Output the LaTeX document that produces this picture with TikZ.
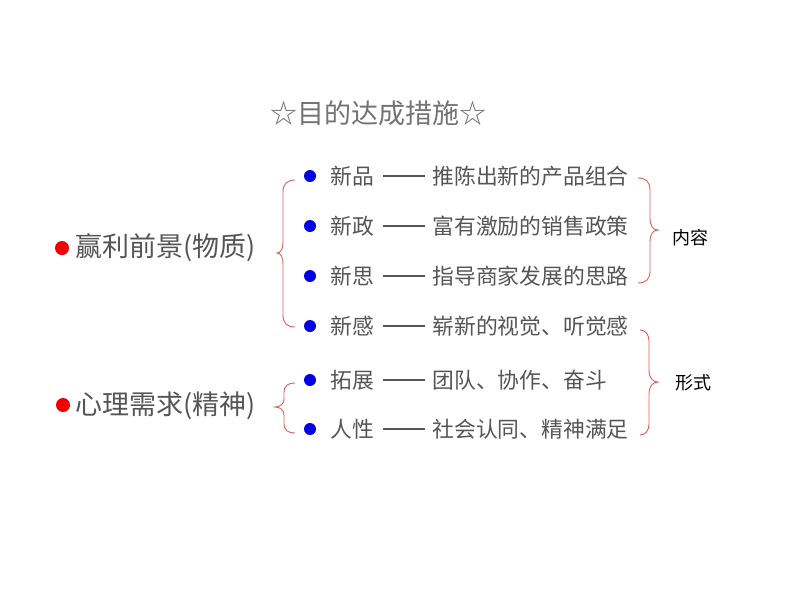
\documentclass[tikz,border=0pt]{standalone}
\usepackage{fontspec}
\newfontfamily\cjk{Noto Sans CJK SC}
\usetikzlibrary{positioning}
\definecolor{txtgray}{RGB}{85,85,85}
\definecolor{titlegray}{RGB}{115,115,115}
\definecolor{dotblue}{RGB}{0,0,230}
\definecolor{dotred}{RGB}{240,0,0}
\definecolor{bracered}{RGB}{224,96,96}
\tikzstyle{heading} = [text=titlegray, font=\cjk\fontsize{27}{30}\selectfont, inner sep=0pt]
\tikzstyle{topic} = [anchor=west, text=txtgray, font=\cjk\fontsize{27}{30}\selectfont, inner sep=0pt]
\tikzstyle{item} = [anchor=west, text=txtgray, font=\cjk\fontsize{21.8}{24}\selectfont, inner sep=0pt]
\tikzstyle{note} = [anchor=west, text=black, font=\cjk\fontsize{18}{20}\selectfont, inner sep=0pt]
\tikzstyle{bluedot} = [circle, fill=dotblue, inner sep=0pt, minimum size=12pt]
\tikzstyle{reddot} = [circle, fill=dotred, inner sep=0pt, minimum size=14pt]
\tikzstyle{rule} = [draw=txtgray, line width=1.3pt]
\tikzstyle{curly} = [draw=bracered, line width=0.9pt]

\begin{document}
\begin{tikzpicture}[x=1pt, y=-1pt]
	\useasboundingbox (0,0) rectangle (800,600);

	% title node
	\node [heading] (T) at (378,113) {☆目的达成措施☆};

	% left topics
	\node [reddot] (R1) at (62,248) {};
	\node [topic] (P1) at (75,248) {赢利前景(物质)};
	\node [reddot] (R2) at (63,405) {};
	\node [topic] (P2) at (75,406) {心理需求(精神)};

	% place rows
	\node [bluedot] (D1) at (310,176) {};
	\node [item, right=14pt of D1] (K1) {新品};
	\node [item, right=58pt of K1] (V1) {推陈出新的产品组合};

	\node [bluedot] (D2) at (310,226) {};
	\node [item, right=14pt of D2] (K2) {新政};
	\node [item, right=58pt of K2] (V2) {富有激励的销售政策};

	\node [bluedot] (D3) at (310,276) {};
	\node [item, right=14pt of D3] (K3) {新思};
	\node [item, right=58pt of K3] (V3) {指导商家发展的思路};

	\node [bluedot] (D4) at (310,326) {};
	\node [item, right=14pt of D4] (K4) {新感};
	\node [item, right=58pt of K4] (V4) {崭新的视觉、听觉感};

	\node [bluedot] (D5) at (310,380) {};
	\node [item, right=14pt of D5] (K5) {拓展};
	\node [item, right=58pt of K5] (V5) {团队、协作、奋斗};

	\node [bluedot] (D6) at (310,429) {};
	\node [item, right=14pt of D6] (K6) {人性};
	\node [item, right=58pt of K6] (V6) {社会认同、精神满足};

	% right notes
	\node [note] (N1) at (672,238) {内容};
	\node [note] (N2) at (675,383) {形式};

	% draw dashes
	\path [rule] ([xshift=9pt]K1.east) -- ([xshift=-7pt]V1.west);
	\path [rule] ([xshift=9pt]K2.east) -- ([xshift=-7pt]V2.west);
	\path [rule] ([xshift=9pt]K3.east) -- ([xshift=-7pt]V3.west);
	\path [rule] ([xshift=9pt]K4.east) -- ([xshift=-7pt]V4.west);
	\path [rule] ([xshift=9pt]K5.east) -- ([xshift=-7pt]V5.west);
	\path [rule] ([xshift=9pt]K6.east) -- ([xshift=-7pt]V6.west);

	% draw braces
	\path [curly] (295,180) .. controls (287,180) and (283,184) .. (283,192) -- (283,241)
		.. controls (283,249) and (281,253) .. (277,253)
		.. controls (281,253) and (283,257) .. (283,265) -- (283,315)
		.. controls (283,323) and (287,327) .. (295,327);
	\path [curly] (295,383) .. controls (288,383) and (284,386) .. (284,392) -- (284,399)
		.. controls (284,404) and (280,407) .. (275,407)
		.. controls (280,407) and (284,410) .. (284,415) -- (284,424)
		.. controls (284,430) and (288,433) .. (295,433);
	\path [curly] (638,178) .. controls (646,178) and (650,182) .. (650,190) -- (650,218)
		.. controls (650,226) and (653,230) .. (658,230)
		.. controls (653,230) and (650,234) .. (650,242) -- (650,271)
		.. controls (650,279) and (646,283) .. (638,283);
	\path [curly] (640,330) .. controls (645,330) and (649,334) .. (649,341) -- (649,370)
		.. controls (649,378) and (653,382) .. (658,382)
		.. controls (653,382) and (649,386) .. (649,394) -- (649,424)
		.. controls (649,431) and (645,435) .. (640,435);
\end{tikzpicture}
\end{document}
